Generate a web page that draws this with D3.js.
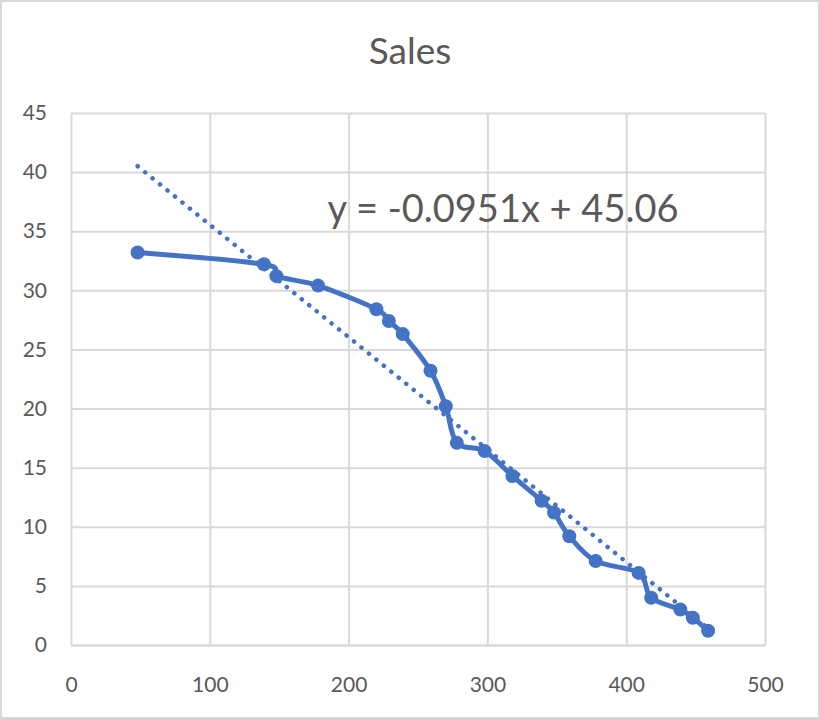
<!DOCTYPE html>
<html><head><meta charset="utf-8">
<script src="https://cdn.jsdelivr.net/npm/d3@7"></script>
<style>body{margin:0;background:#fff}svg{display:block}</style>
</head><body>
<svg id="c" width="820" height="719"></svg>
<script>
const xValues = [48,139,148,178,220,229,239,259,270,278,298,318,339,348,359,378,409,418,439,448,459];
const salesValues = [33.2,32.2,31.2,30.4,28.4,27.4,26.3,23.2,20.2,17.1,16.4,14.3,12.2,11.2,9.2,7.1,6.1,4.0,3.0,2.3,1.2];
const xTicks = [0,100,200,300,400,500];
const yTicks = [0,5,10,15,20,25,30,35,40,45];
const trendSlope = -0.0951, trendIntercept = 45.06;
const title = "Sales";
const equationLabel = "y = -0.0951x + 45.06";

const svg = d3.select("#c");
const W = 820, H = 719;
const m = {left:71, right:55, top:113, bottom:74};
const x = d3.scaleLinear().domain([0,500]).range([m.left, W-m.right]);
const y = d3.scaleLinear().domain([0,45]).range([H-m.bottom, m.top]);
const font = "Lato, 'Open Sans', sans-serif";
const grid = "#d9d9d9", txt = "#595959", blue = "#4472C4";

svg.append("rect").attr("x",1).attr("y",1).attr("width",W-2).attr("height",H-2)
  .attr("fill","#fff").attr("stroke","#d9d9d9").attr("stroke-width",2);

svg.append("text").attr("x",410).attr("y",64).attr("text-anchor","middle")
  .attr("font-family",font).attr("font-size",37).attr("fill",txt).text(title);

// gridlines
const gx = d3.axisBottom(x).tickValues(xTicks).tickSize(-(y(0)-y(45))).tickFormat("");
svg.append("g").attr("transform",`translate(0,${y(0)})`).call(gx)
  .call(g=>{g.select(".domain").remove();g.selectAll("line").attr("stroke",grid).attr("stroke-width",2);});
const gy = d3.axisLeft(y).tickValues(yTicks).tickSize(-(x(500)-x(0))).tickFormat("");
svg.append("g").attr("transform",`translate(${x(0)},0)`).call(gy)
  .call(g=>{g.select(".domain").remove();g.selectAll("line").attr("stroke",grid).attr("stroke-width",2);});

// tick labels
const ax = d3.axisBottom(x).tickValues(xTicks).tickSize(0).tickPadding(32);
svg.append("g").attr("transform",`translate(0,${y(0)})`).call(ax)
  .call(g=>{g.select(".domain").attr("stroke",grid).attr("stroke-width",2);
    g.selectAll("text").attr("font-family",font).attr("font-size",21).attr("fill",txt);});
const ay = d3.axisLeft(y).tickValues(yTicks).tickSize(0).tickPadding(24);
svg.append("g").attr("transform",`translate(${x(0)},0)`).call(ay)
  .call(g=>{g.select(".domain").remove();
    g.selectAll("text").attr("font-family",font).attr("font-size",21).attr("fill",txt);});

const data = xValues.map((v,i)=>({x:v,y:salesValues[i]}));

// trendline
const x0 = d3.min(xValues), x1 = d3.max(xValues);
svg.append("line")
  .attr("x1",x(x0)).attr("y1",y(trendSlope*x0+trendIntercept))
  .attr("x2",x(x1)).attr("y2",y(trendSlope*x1+trendIntercept))
  .attr("stroke",blue).attr("stroke-width",4.5).attr("stroke-linecap","round")
  .attr("stroke-dasharray","0.1 9.5");

// series line
const line = d3.line().x(d=>x(d.x)).y(d=>y(d.y)).curve(d3.curveCatmullRom.alpha(0));
svg.append("path").datum(data).attr("d",line).attr("fill","none")
  .attr("stroke",blue).attr("stroke-width",5).attr("stroke-linejoin","round").attr("stroke-linecap","round");

svg.append("g").selectAll("circle").data(data).join("circle")
  .attr("cx",d=>x(d.x)).attr("cy",d=>y(d.y)).attr("r",7).attr("fill",blue);

svg.append("text").attr("x",503).attr("y",222).attr("text-anchor","middle")
  .attr("font-family",font).attr("font-size",38).attr("fill",txt).text(equationLabel);
</script>
</body></html>
